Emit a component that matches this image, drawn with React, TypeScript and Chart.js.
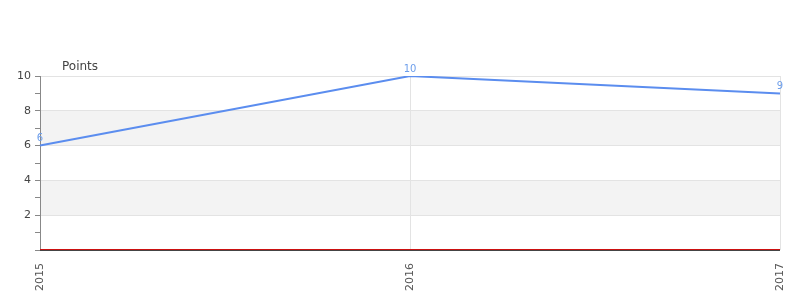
import React, { useEffect, useRef } from "react";
import { Chart, registerables } from "chart.js";

Chart.register(...registerables);

const categories = ["2015", "2016", "2017"];
const pointsValues = [6, 10, 9];
const seriesName = "Points";
const yMin = 0;
const yMax = 10;
const bands = [
  [2, 4],
  [6, 8],
];

const FONT = "DejaVu Sans";
const LINE_COLOR = "#5b8def";

const bandsPlugin = {
  id: "bands",
  beforeDraw(chart: any) {
    const { ctx, chartArea } = chart;
    const y = chart.scales.y;
    ctx.save();
    ctx.fillStyle = "#f3f3f3";
    for (const [a, b] of bands) {
      const y1 = y.getPixelForValue(b);
      const y2 = y.getPixelForValue(a);
      ctx.fillRect(chartArea.left, y1, chartArea.right - chartArea.left, y2 - y1);
    }
    ctx.restore();
  },
};

const overlayPlugin = {
  id: "overlay",
  afterDraw(chart: any) {
    const { ctx, chartArea } = chart;
    const y = chart.scales.y;
    ctx.save();
    const y0 = Math.round(y.getPixelForValue(0));
    ctx.fillStyle = "#cc1111";
    ctx.fillRect(chartArea.left, y0 - 1, chartArea.right - chartArea.left, 1);
    ctx.fillStyle = "#444444";
    ctx.fillRect(chartArea.left, y0, chartArea.right - chartArea.left, 1);
    const meta = chart.getDatasetMeta(0);
    ctx.font = `10px "${FONT}"`;
    ctx.fillStyle = "#6d9eeb";
    ctx.textAlign = "center";
    ctx.textBaseline = "bottom";
    meta.data.forEach((pt: any, i: number) => {
      ctx.fillText(String(pointsValues[i]), pt.x, pt.y - 2);
    });
    ctx.font = `12px "${FONT}"`;
    ctx.fillStyle = "#444444";
    ctx.textAlign = "left";
    ctx.textBaseline = "middle";
    ctx.fillText(seriesName, chartArea.left + 22, chartArea.top - 9);
    ctx.restore();
  },
};

export default function App() {
  const ref = useRef<HTMLCanvasElement>(null);
  useEffect(() => {
    const chart = new Chart(ref.current!, {
      type: "line",
      data: {
        labels: categories,
        datasets: [
          {
            label: seriesName,
            data: pointsValues,
            borderColor: LINE_COLOR,
            backgroundColor: LINE_COLOR,
            borderWidth: 2,
            pointRadius: 0,
            tension: 0,
            fill: false,
          },
        ],
      },
      options: {
        animation: false,
        responsive: false,
        layout: { padding: { top: 68, right: 0, left: 0, bottom: 0 } },
        plugins: { legend: { display: false }, tooltip: { enabled: false } },
        scales: {
          x: {
            offset: false,
            grid: { color: "#e3e3e3", drawTicks: false },
            border: { display: false },
            ticks: {
              minRotation: 90,
              maxRotation: 90,
              padding: 13,
              color: "#555555",
              font: { family: FONT, size: 11 },
            },
            afterFit(s: any) {
              s.height = 42;
              s.paddingRight = 12;
              s.paddingLeft = 0;
            },
          },
          y: {
            min: yMin,
            max: yMax,
            grid: {
              color: (c: any) =>
                c.tick && c.tick.value % 2 === 0 && c.tick.value !== 0 ? "#e3e3e3" : "rgba(0,0,0,0)",
              tickColor: "#888888",
              tickLength: 5,
            },
            border: { color: "#888888" },
            ticks: {
              stepSize: 1,
              autoSkip: false,
              padding: 4,
              color: "#444444",
              font: { family: FONT, size: 11 },
              callback: (v: any) => (v % 2 === 0 && v !== 0 ? String(v) : ""),
            },
            afterFit(s: any) {
              s.width = 32;
            },
          },
        },
      },
      plugins: [bandsPlugin, overlayPlugin],
    });
    return () => chart.destroy();
  }, []);
  return (
    <div style={{ width: 784, height: 284 }}>
      <canvas ref={ref} width={784} height={284} style={{ display: "block" }} />
    </div>
  );
}
